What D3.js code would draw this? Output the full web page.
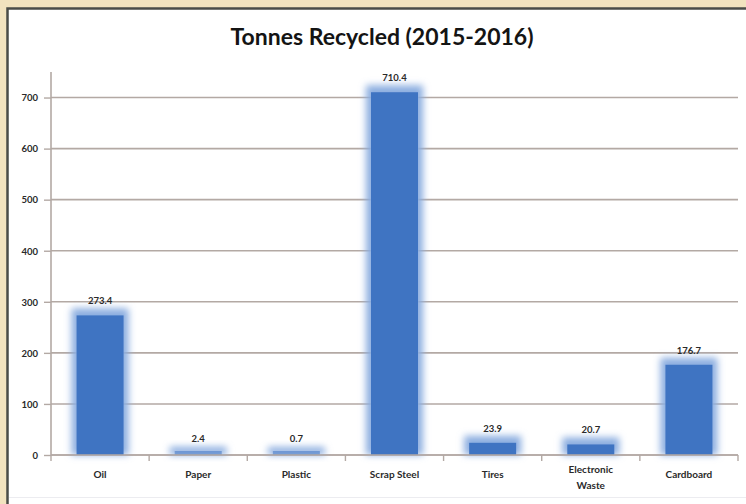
<!DOCTYPE html>
<html><head><meta charset="utf-8">
<script src="https://cdn.jsdelivr.net/npm/d3@7"></script>
<style>
html,body{margin:0;padding:0;background:#f2e3bf;}
svg{display:block;}
</style></head>
<body>
<svg id="c" width="746" height="504"></svg>
<script>
const categories = ["Oil","Paper","Plastic","Scrap Steel","Tires","Electronic Waste","Cardboard"];
const values = [273.4, 2.4, 0.7, 710.4, 23.9, 20.7, 176.7];
const valueLabels = ["273.4","2.4","0.7","710.4","23.9","20.7","176.7"];
const yTicks = [0,100,200,300,400,500,600,700];
const title = "Tonnes Recycled (2015-2016)";

const svg = d3.select("#c");
const W = 746, H = 504;
const FONT = "Lato, 'Open Sans', sans-serif";
// panel
svg.append("rect").attr("x",0).attr("y",0).attr("width",W).attr("height",H).attr("fill","#f2e3bf");
svg.append("rect").attr("x",8).attr("y",9).attr("width",W).attr("height",H).attr("fill","#ffffff");
svg.append("path").attr("d",`M7.5,${H}V8.5H${W}`).attr("fill","none").attr("stroke","#4a4c48").attr("stroke-width",2.5);
svg.append("line").attr("x1",9).attr("x2",W).attr("y1",497.5).attr("y2",497.5).attr("stroke","#ececf0").attr("stroke-width",1);

const defs = svg.append("defs");
const f = defs.append("filter").attr("id","glow").attr("x","-30%").attr("y","-80%").attr("width","160%").attr("height","260%");
f.append("feGaussianBlur").attr("in","SourceGraphic").attr("stdDeviation",3.5);

const m = {left:51, right:738, top:72, bottom:455};
const x = d3.scaleBand().domain(categories).range([m.left,m.right]).paddingInner(0.46).paddingOuter(0.23);
const y = d3.scaleLinear().domain([0,750]).range([m.bottom,m.top]);

// gridlines
svg.append("g").selectAll("line").data(yTicks.filter(d=>d>0)).join("line")
  .attr("x1",m.left).attr("x2",m.right).attr("y1",d=>y(d)).attr("y2",d=>y(d))
  .attr("stroke","#b3a9a4").attr("stroke-width",1.6);

// y axis
const ya = svg.append("g").attr("transform",`translate(${m.left},0)`)
  .call(d3.axisLeft(y).tickValues(yTicks).tickSize(7).tickPadding(6));
ya.select(".domain").attr("stroke","#b3a9a4").attr("stroke-width",1.6).attr("d",`M0,${m.top}V${m.bottom}`);
ya.selectAll(".tick line").attr("stroke","#b3a9a4").attr("stroke-width",1.4);
ya.selectAll(".tick text").attr("fill","#2a2a2a").style("font-family",FONT).style("font-weight","bold").style("font-size","9.5px").attr("dy","0.35em");

// x axis
const xa = svg.append("g").attr("transform",`translate(0,${m.bottom})`)
  .call(d3.axisBottom(x).tickSize(0).tickPadding(14));
xa.select(".domain").attr("stroke","#b3a9a4").attr("stroke-width",1.6).attr("d",`M${m.left},0H${m.right}`);
xa.selectAll(".tick text").remove();
const bounds = d3.range(categories.length+1).map(i=>m.left + (m.right-m.left)*i/categories.length);
xa.selectAll(".bt").data(bounds).join("line").attr("class","bt")
  .attr("x1",d=>d).attr("x2",d=>d).attr("y1",0).attr("y2",6)
  .attr("stroke","#b3a9a4").attr("stroke-width",1.4);

// category labels
const cl = svg.append("g").selectAll("text").data(categories).join("text")
  .attr("x",d=>x(d)+x.bandwidth()/2).attr("y",478)
  .attr("text-anchor","middle").attr("fill","#2a2a2a")
  .style("font-family",FONT).style("font-weight","bold").style("font-size","10px");
cl.each(function(d){
  const words = d.split(" ");
  const t = d3.select(this);
  if (d === "Electronic Waste") {
    t.attr("y",473);
    words.forEach((w,i)=>t.append("tspan").attr("x",x(d)+x.bandwidth()/2).attr("dy",i?16:0).text(w));
  } else t.text(d);
});

// bars: glow + core
const bw = x.bandwidth();
const bars = svg.append("g");
bars.selectAll("rect.g").data(values).join("rect").attr("class","g")
  .attr("x",(d,i)=>x(categories[i])-2).attr("width",bw+4)
  .attr("y",d=>Math.min(y(d)-7, m.bottom-8)).attr("height",d=>Math.max(m.bottom-y(d)+7, 8))
  .attr("fill","#8caee0").attr("filter","url(#glow)");
bars.selectAll("rect.c").data(values).join("rect").attr("class","c")
  .attr("x",(d,i)=>x(categories[i])+3).attr("width",bw-6)
  .attr("y",d=>Math.min(y(d), m.bottom-4)).attr("height",d=>Math.max(m.bottom-y(d),4))
  .attr("fill","#3f74c2")
  .attr("fill-opacity",d=>(m.bottom-y(d))<5?0.55:1);
svg.append("line").attr("x1",m.left).attr("x2",m.right).attr("y1",m.bottom).attr("y2",m.bottom)
  .attr("stroke","#b3a9a4").attr("stroke-width",1.6);

// value labels
svg.append("g").selectAll("text").data(values).join("text")
  .attr("x",(d,i)=>x(categories[i])+bw/2).attr("y",d=>Math.min(y(d)-11, m.bottom-13))
  .attr("text-anchor","middle").attr("fill","#2a2a2a")
  .style("font-family",FONT).style("font-weight","bold").style("font-size","9.5px")
  .text((d,i)=>valueLabels[i]);

// title
svg.append("text").attr("x",382).attr("y",45).attr("text-anchor","middle")
  .attr("fill","#141414").style("font-family",FONT)
  .style("font-weight","bold").style("font-size","23px").text(title);
</script>
</body></html>
